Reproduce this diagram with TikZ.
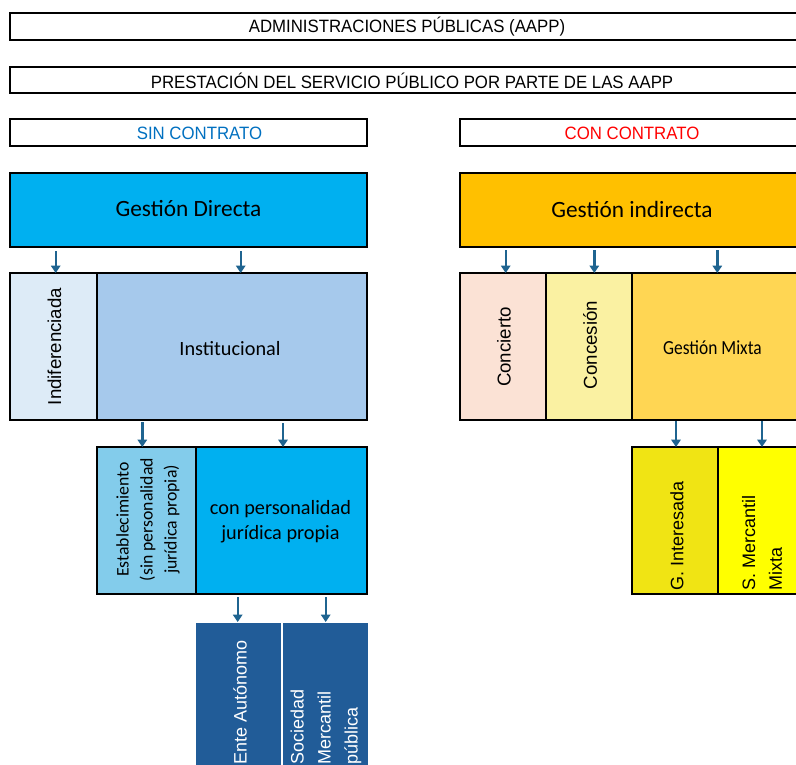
\documentclass[tikz,border=0pt]{standalone}
\usepackage{fontspec}
\setmainfont{Liberation Sans}
\newfontfamily\aptos{Carlito}
\usetikzlibrary{arrows.meta,fit}
\definecolor{gdblue}{HTML}{00B0F0}
\definecolor{indifc}{HTML}{DDEBF7}
\definecolor{institc}{HTML}{A6C9EC}
\definecolor{estabc}{HTML}{83CCEB}
\definecolor{entec}{HTML}{215C98}
\definecolor{goldc}{HTML}{FFC000}
\definecolor{conciertoc}{HTML}{FBE2D5}
\definecolor{concesionc}{HTML}{FAF1A2}
\definecolor{mixtac}{HTML}{FFD653}
\definecolor{interc}{HTML}{F0E414}
\definecolor{smercc}{HTML}{FFFF00}
\definecolor{arrowc}{HTML}{1F6490}
\definecolor{sinc}{HTML}{0070C0}
\definecolor{conc}{HTML}{FF0000}
\begin{document}
\begin{tikzpicture}[x=0.75pt,y=-0.75pt,
  cell/.style={draw=black,line width=0.8pt,inner sep=0pt,outer sep=0pt},
  wcell/.style={draw=white,line width=0.8pt,inner sep=0pt,outer sep=0pt},
  arr/.style={draw=arrowc,line width=1.8pt,-{Triangle[width=7pt,length=5.5pt]}},
  toptext/.style={font=\fontsize{13.4}{16}\selectfont,inner sep=0pt},
  bigtext/.style={font=\aptos\fontsize{17.5}{21}\selectfont,inner sep=0pt},
  midtext/.style={font=\aptos\fontsize{15.2}{18.75}\selectfont,inner sep=0pt,align=center},
  rottext/.style={font=\fontsize{14}{19.5}\selectfont,inner sep=0pt,rotate=90},
  lowtext/.style={font=\fontsize{13.5}{20}\selectfont,inner sep=0pt,rotate=90,anchor=west,align=left}]
\useasboundingbox (0,0) rectangle (796,764);
\clip (0,0) rectangle (796,764);
\fill[white] (0,0) rectangle (796,764);

% header boxes
\node[cell,fit={(10,13) (806,40)}] (h1) {};
\node[toptext] (h1t) at (407,27) {\scalebox{0.94}[1]{ADMINISTRACIONES PÚBLICAS (AAPP)}};
\node[cell,fit={(10,67) (806,93)}] (h2) {};
\node[toptext] (h2t) at (412,80.5) {\scalebox{0.94}[1]{PRESTACIÓN DEL SERVICIO PÚBLICO POR PARTE DE LAS AAPP}};
\node[cell,fit={(10,119) (367,146)}] (sin) {};
\node[toptext,text=sinc] (sint) at (199.5,133) {\scalebox{0.94}[1]{SIN CONTRATO}};
\node[cell,fit={(460,119) (806,146)}] (con) {};
\node[toptext,text=conc] (cont) at (632,133) {\scalebox{0.94}[1]{CON CONTRATO}};

% left side
\node[cell,fill=gdblue,fit={(10,173) (367,247)}] (gd) {};
\node[bigtext] (gdt) at (188.5,209) {Gestión Directa};
\node[cell,fill=indifc,fit={(10,273) (97,420)}] (indif) {};
\node[rottext] (indift) at (54.5,346.5) {Indiferenciada};
\node[cell,fill=institc,fit={(97,273) (367,420)}] (instit) {};
\node[midtext] (institt) at (230,349) {Institucional};
\node[cell,fill=estabc,fit={(97,447) (196,594)}] (estab) {};
\node[font=\aptos\fontsize{13.3}{18}\selectfont,inner sep=0pt,rotate=90,align=center] (estabt) at (148,519.5) {Establecimiento\\(sin personalidad\\jurídica propia)};
\node[cell,fill=gdblue,fit={(196,447) (367,594)}] (conp) {};
\node[midtext] (conpt) at (280.5,521.5) {con personalidad\\jurídica propia};
\node[wcell,fill=entec,fit={(195,622) (282,790)}] (ente) {};
\node[lowtext,text=white] (entet) at (240,765) {Ente Autónomo};
\node[wcell,fill=entec,fit={(282,622) (369,790)}] (soc) {};
\node[lowtext,text=white,font=\fontsize{13.5}{20.3}\selectfont] (soct) at (326,765) {Sociedad\\Mercantil\\pública};

% right side
\node[cell,fill=goldc,fit={(460,173) (806,247)}] (gi) {};
\node[bigtext] (git) at (632,209) {Gestión indirecta};
\node[cell,fill=conciertoc,fit={(460,273) (546,420)}] (conci) {};
\node[rottext] (concit) at (504,347) {Concierto};
\node[cell,fill=concesionc,fit={(546,273) (632,420)}] (conce) {};
\node[rottext] (concet) at (590,345) {Concesión};
\node[cell,fill=mixtac,fit={(632,273) (806,420)}] (mixta) {};
\node[font=\aptos\fontsize{15}{18}\selectfont,inner sep=0pt] (mixtat) at (712.5,348) {\scalebox{0.87}[1]{Gestión Mixta}};
\node[cell,fill=interc,fit={(632,447) (718,594)}] (inter) {};
\node[lowtext] (intert) at (677,591) {G. Interesada};
\node[cell,fill=smercc,fit={(718,447) (806,594)}] (smerc) {};
\node[lowtext] (smerct) at (762,591) {S. Mercantil\\Mixta};

% arrows
\coordinate (a1) at (55.7,251);
\coordinate (a2) at (240.7,251);
\coordinate (a3) at (505.7,250);
\coordinate (a4) at (594.3,250);
\coordinate (a5) at (717.3,250);
\coordinate (a6) at (142.3,422);
\coordinate (a7) at (283,423);
\coordinate (a8) at (676,421);
\coordinate (a9) at (762,421);
\coordinate (a10) at (237.7,597);
\coordinate (a11) at (325.7,597);
\draw[arr] (a1) -- (a1 |- indif.north);
\draw[arr] (a2) -- (a2 |- instit.north);
\draw[arr] (a3) -- (a3 |- conci.north);
\draw[arr] (a4) -- (a4 |- conce.north);
\draw[arr] (a5) -- (a5 |- mixta.north);
\draw[arr] (a6) -- (a6 |- estab.north);
\draw[arr] (a7) -- (a7 |- conp.north);
\draw[arr] (a8) -- (a8 |- inter.north);
\draw[arr] (a9) -- (a9 |- smerc.north);
\draw[arr] (a10) -- (a10 |- ente.north);
\draw[arr] (a11) -- (a11 |- soc.north);
\end{tikzpicture}
\end{document}
